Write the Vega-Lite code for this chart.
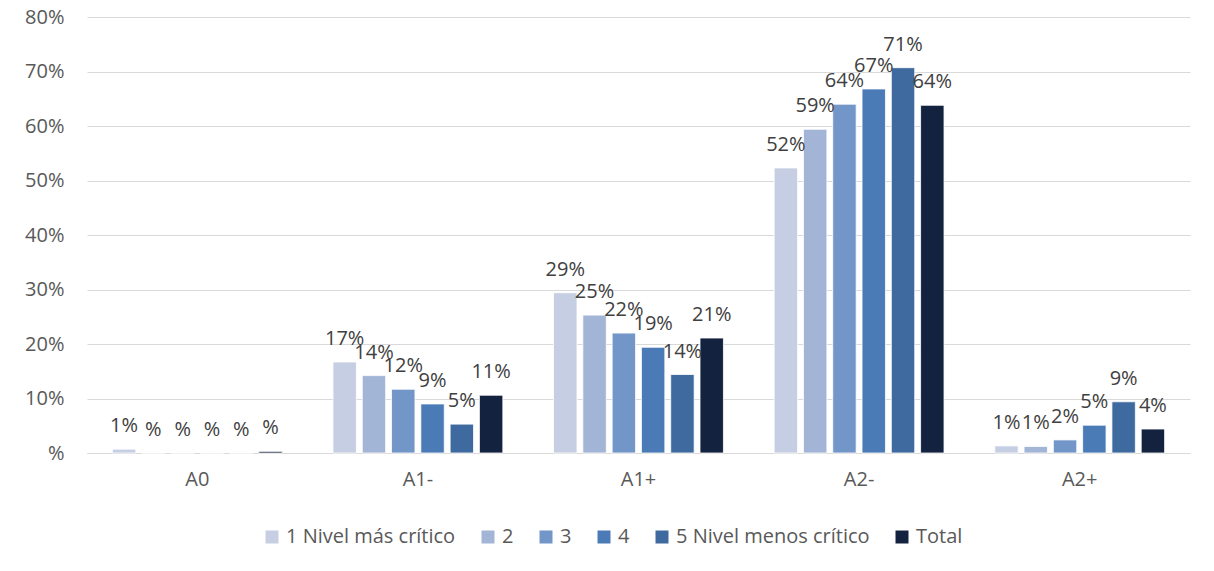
{
  "$schema": "https://vega.github.io/schema/vega-lite/v6.json",
  "width": 1103,
  "height": 436,
  "autosize": {"type": "none"},
  "padding": {"left": 87, "top": 17, "right": 24, "bottom": 118},
  "background": "white",
  "config": {
    "font": "Open Sans",
    "view": {"stroke": null},
    "axis": {"labelFont": "Open Sans", "labelColor": "#595959", "labelFontSize": 20}
  },
  "data": {
    "values": [
      {"nivel": "A0", "grupo": "1 Nivel más crítico", "v": 0.007},
      {"nivel": "A0", "grupo": "2", "v": 0.0},
      {"nivel": "A0", "grupo": "3", "v": 0.0},
      {"nivel": "A0", "grupo": "4", "v": 0.0},
      {"nivel": "A0", "grupo": "5 Nivel menos crítico", "v": 0.0},
      {"nivel": "A0", "grupo": "Total", "v": 0.003},
      {"nivel": "A1-", "grupo": "1 Nivel más crítico", "v": 0.167},
      {"nivel": "A1-", "grupo": "2", "v": 0.142},
      {"nivel": "A1-", "grupo": "3", "v": 0.117},
      {"nivel": "A1-", "grupo": "4", "v": 0.09},
      {"nivel": "A1-", "grupo": "5 Nivel menos crítico", "v": 0.053},
      {"nivel": "A1-", "grupo": "Total", "v": 0.106},
      {"nivel": "A1+", "grupo": "1 Nivel más crítico", "v": 0.294},
      {"nivel": "A1+", "grupo": "2", "v": 0.253},
      {"nivel": "A1+", "grupo": "3", "v": 0.22},
      {"nivel": "A1+", "grupo": "4", "v": 0.194},
      {"nivel": "A1+", "grupo": "5 Nivel menos crítico", "v": 0.144},
      {"nivel": "A1+", "grupo": "Total", "v": 0.211},
      {"nivel": "A2-", "grupo": "1 Nivel más crítico", "v": 0.523},
      {"nivel": "A2-", "grupo": "2", "v": 0.594},
      {"nivel": "A2-", "grupo": "3", "v": 0.64},
      {"nivel": "A2-", "grupo": "4", "v": 0.668},
      {"nivel": "A2-", "grupo": "5 Nivel menos crítico", "v": 0.707},
      {"nivel": "A2-", "grupo": "Total", "v": 0.638},
      {"nivel": "A2+", "grupo": "1 Nivel más crítico", "v": 0.013},
      {"nivel": "A2+", "grupo": "2", "v": 0.012},
      {"nivel": "A2+", "grupo": "3", "v": 0.024},
      {"nivel": "A2+", "grupo": "4", "v": 0.051},
      {"nivel": "A2+", "grupo": "5 Nivel menos crítico", "v": 0.094},
      {"nivel": "A2+", "grupo": "Total", "v": 0.044}
    ]
  },
  "transform": [
    {"calculate": "round(datum.v * 100) == 0 ? '%' : format(datum.v, '.0%')", "as": "etiqueta"}
  ],
  "encoding": {
    "x": {
      "field": "nivel",
      "type": "nominal",
      "sort": ["A0", "A1-", "A1+", "A2-", "A2+"],
      "scale": {"paddingInner": 0.23, "paddingOuter": 0.115},
      "axis": {
        "title": null,
        "labelAngle": 0,
        "labelPadding": 16,
        "ticks": false,
        "domainColor": "#d9d9d9",
        "domainWidth": 1
      }
    },
    "xOffset": {
      "field": "grupo",
      "type": "nominal",
      "sort": ["1 Nivel más crítico", "2", "3", "4", "5 Nivel menos crítico", "Total"],
      "scale": {"paddingInner": 0.2, "paddingOuter": 0}
    },
    "y": {
      "field": "v",
      "type": "quantitative",
      "scale": {"domain": [0, 0.8]},
      "axis": {
        "title": null,
        "values": [0, 0.1, 0.2, 0.3, 0.4, 0.5, 0.6, 0.7, 0.8],
        "labelOverlap": false,
        "labelExpr": "datum.value == 0 ? '%' : format(datum.value, '.0%')",
        "labelPadding": 23,
        "ticks": false,
        "domain": false,
        "gridColor": "#d9d9d9",
        "gridWidth": 1
      }
    }
  },
  "layer": [
    {
      "mark": {"type": "bar", "stroke": "white", "strokeWidth": 0.8},
      "encoding": {
        "color": {
          "field": "grupo",
          "type": "nominal",
          "sort": ["1 Nivel más crítico", "2", "3", "4", "5 Nivel menos crítico", "Total"],
          "scale": {
            "domain": ["1 Nivel más crítico", "2", "3", "4", "5 Nivel menos crítico", "Total"],
            "range": ["#c5cee2", "#a3b5d7", "#7396c8", "#4a7bb7", "#3f6a9f", "#13233f"]
          },
          "legend": {
            "title": null,
            "orient": "none",
            "direction": "horizontal",
            "legendX": 175,
            "legendY": 510,
            "symbolType": "square",
            "symbolSize": 169,
            "symbolStrokeWidth": 0,
            "labelFont": "Open Sans",
            "labelFontSize": 20,
            "labelColor": "#595959",
            "labelOffset": 4,
            "columnPadding": 22,
            "labelLimit": 300
          }
        }
      }
    },
    {
      "mark": {
        "type": "text",
        "baseline": "bottom",
        "dy": -13,
        "font": "Open Sans",
        "fontSize": 20,
        "color": "#404040"
      },
      "encoding": {"text": {"field": "etiqueta"}}
    }
  ]
}
